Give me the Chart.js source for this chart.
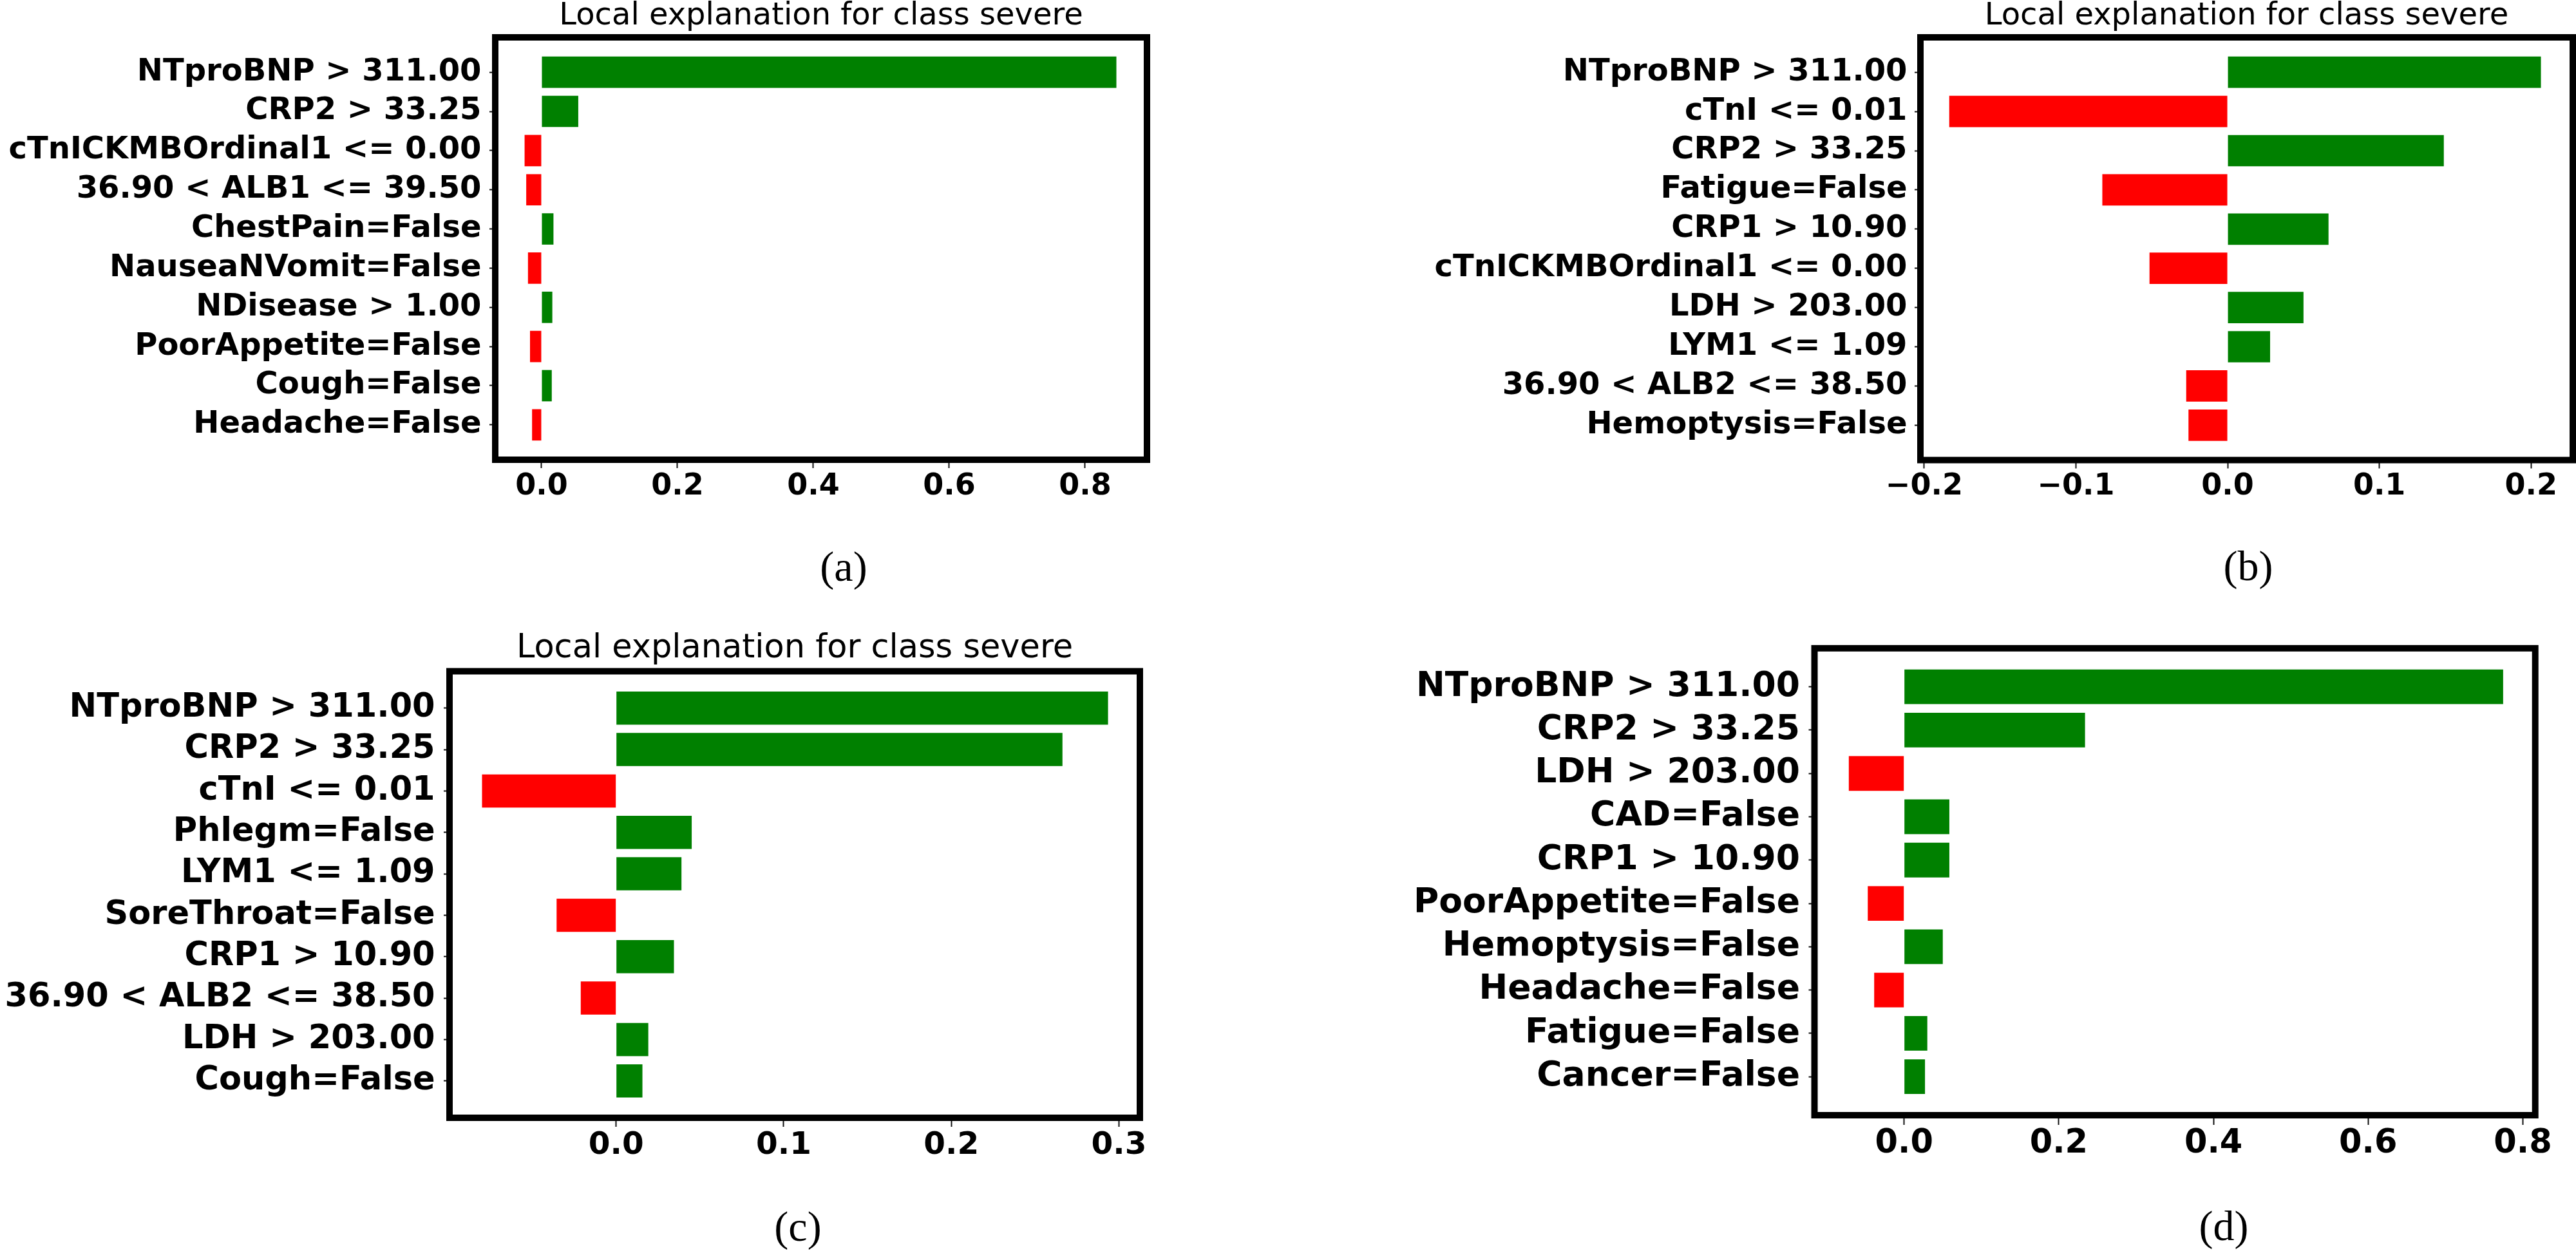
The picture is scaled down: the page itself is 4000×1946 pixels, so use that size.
<!DOCTYPE html>
<html>
<head>
<meta charset="utf-8">
<script src="https://cdn.jsdelivr.net/npm/chart.js@4.4.0/dist/chart.umd.min.js"></script>
<style>
html, body { margin: 0; padding: 0; background: #fff; }
#wrap { position: relative; width: 4000px; height: 1946px; background: #fff; overflow: hidden; }
canvas { position: absolute; }
.cap { position: absolute; font-family: 'Liberation Serif', 'Times New Roman', serif; font-size: 66px; line-height: 66px; color: #000; transform: translateX(-50%); white-space: nowrap; }
</style>
</head>
<body>
<div id="wrap">
  <canvas id="ca" width="2000" height="973" style="left:0px;top:0px"></canvas>
  <canvas id="cb" width="2000" height="973" style="left:2000px;top:0px"></canvas>
  <canvas id="cc" width="2000" height="973" style="left:0px;top:973px"></canvas>
  <canvas id="cd" width="2000" height="973" style="left:2000px;top:973px"></canvas>
  <div class="cap" style="left:1310px;top:847px">(a)</div>
  <div class="cap" style="left:3491px;top:846px">(b)</div>
  <div class="cap" style="left:1239px;top:1872px">(c)</div>
  <div class="cap" style="left:3453px;top:1871px">(d)</div>
</div>
<script>
// ---------- data (top bar first) ----------
const titleText = 'Local explanation for class severe';

const labelsA = ['NTproBNP > 311.00', 'CRP2 > 33.25', 'cTnICKMBOrdinal1 <= 0.00', '36.90 < ALB1 <= 39.50', 'ChestPain=False', 'NauseaNVomit=False', 'NDisease > 1.00', 'PoorAppetite=False', 'Cough=False', 'Headache=False'];
const valuesA = [0.846, 0.054, -0.025, -0.0226, 0.0175, -0.020, 0.0158, -0.017, 0.015, -0.014];
const ticksA = [0.0, 0.2, 0.4, 0.6, 0.8];

const labelsB = ['NTproBNP > 311.00', 'cTnI <= 0.01', 'CRP2 > 33.25', 'Fatigue=False', 'CRP1 > 10.90', 'cTnICKMBOrdinal1 <= 0.00', 'LDH > 203.00', 'LYM1 <= 1.09', '36.90 < ALB2 <= 38.50', 'Hemoptysis=False'];
const valuesB = [0.2065, -0.1835, 0.1425, -0.0826, 0.0665, -0.0515, 0.050, 0.028, -0.0273, -0.0258];
const ticksB = [-0.2, -0.1, 0.0, 0.1, 0.2];

const labelsC = ['NTproBNP > 311.00', 'CRP2 > 33.25', 'cTnI <= 0.01', 'Phlegm=False', 'LYM1 <= 1.09', 'SoreThroat=False', 'CRP1 > 10.90', '36.90 < ALB2 <= 38.50', 'LDH > 203.00', 'Cough=False'];
const valuesC = [0.2935, 0.2663, -0.080, 0.0451, 0.039, -0.0355, 0.0345, -0.0211, 0.0192, 0.0157];
const ticksC = [0.0, 0.1, 0.2, 0.3];

const labelsD = ['NTproBNP > 311.00', 'CRP2 > 33.25', 'LDH > 203.00', 'CAD=False', 'CRP1 > 10.90', 'PoorAppetite=False', 'Hemoptysis=False', 'Headache=False', 'Fatigue=False', 'Cancer=False'];
const valuesD = [0.7745, 0.2339, -0.0715, 0.0585, 0.0585, -0.047, 0.050, -0.0387, 0.030, 0.027];
const ticksD = [0.0, 0.2, 0.4, 0.6, 0.8];

// ---------- styling ----------
const GREEN = '#008000';
const RED = '#ff0000';

const framePlugin = {
  id: 'frame',
  afterDatasetsDraw(chart, args, opts) {
    const a = chart.chartArea, ctx = chart.ctx;
    ctx.save();
    ctx.strokeStyle = '#000';
    ctx.lineWidth = opts.width || 10;
    ctx.lineJoin = 'miter';
    ctx.strokeRect(a.left, a.top, a.right - a.left, a.bottom - a.top);
    ctx.restore();
  }
};

function fmtTick(v) {
  const s = Math.abs(v).toFixed(1);
  return (v < -1e-9 ? '\u2212' : '') + s;
}

function zeroPad(s) { s.paddingLeft = 0; s.paddingRight = 0; s.paddingTop = 0; s.paddingBottom = 0; }

function makePanel(id, labels, values, tickVals, p) {
  const n = labels.length;
  const yPad = 0.4 + 0.05 * (n - 1 + 0.8);
  new Chart(document.getElementById(id), {
    type: 'bar',
    data: {
      datasets: [{
        data: values.map((v, i) => ({ x: v, y: i })),
        backgroundColor: values.map(v => v >= 0 ? GREEN : RED),
        borderWidth: 0,
        barPercentage: 0.8,
        categoryPercentage: 1.0
      }]
    },
    options: {
      indexAxis: 'y',
      responsive: false,
      animation: false,
      devicePixelRatio: 1,
      layout: { padding: { left: 0, top: p.padTop, right: p.padRight, bottom: 0 } },
      plugins: {
        legend: { display: false },
        tooltip: { enabled: false },
        title: p.title ? {
          display: true, text: p.title, fullSize: false, color: '#000', align: 'center',
          font: { family: 'DejaVu Sans', size: p.titleSize, weight: 'normal', lineHeight: 1 },
          padding: { top: p.titlePadTop, bottom: p.titlePadBottom }
        } : { display: false },
        frame: { width: p.frame }
      },
      scales: {
        x: {
          type: 'linear', position: 'bottom', min: p.xmin, max: p.xmax, offset: false,
          grid: { display: true, drawOnChartArea: false, drawTicks: true, tickLength: p.xTickLen, tickWidth: 2, tickColor: '#111', color: '#111', offset: false },
          border: { display: false },
          ticks: {
            autoSkip: false, maxRotation: 0, minRotation: 0, padding: p.xTickPad, color: '#000',
            font: { family: 'DejaVu Sans', size: p.tickSize, weight: 'bold', lineHeight: 1 },
            callback: v => fmtTick(v)
          },
          afterBuildTicks: s => { s.ticks = tickVals.map(v => ({ value: v })); },
          afterFit: s => { s.height = p.xAxisH; zeroPad(s); }
        },
        y: {
          type: 'linear', position: 'left', reverse: true, min: -yPad, max: n - 1 + yPad, offset: false,
          grid: { display: true, drawOnChartArea: false, drawTicks: true, tickLength: 9, tickWidth: 2, tickColor: '#111', color: '#111', offset: false },
          border: { display: false },
          ticks: {
            autoSkip: false, padding: p.yTickPad, color: '#000',
            font: { family: 'DejaVu Sans', size: p.labelSize, weight: 'bold', lineHeight: 1 },
            callback: v => labels[v]
          },
          afterBuildTicks: s => { s.ticks = labels.map((_, i) => ({ value: i })); },
          afterFit: s => { s.width = p.yAxisW; zeroPad(s); }
        }
      }
    },
    plugins: [framePlugin]
  });
}

makePanel('ca', labelsA, valuesA, ticksA, {
  title: titleText, titleSize: 48, titlePadTop: 1.4, titlePadBottom: 8.6,
  padTop: 0, padRight: 219, yAxisW: 769, xAxisH: 259,
  xmin: -0.0682, xmax: 0.891, labelSize: 48, tickSize: 46,
  xTickLen: 13, xTickPad: 6, yTickPad: 12.5, frame: 10
});
makePanel('cb', labelsB, valuesB, ticksB, {
  title: titleText, titleSize: 48, titlePadTop: 1.4, titlePadBottom: 8.6,
  padTop: 0, padRight: 5, yAxisW: 982, xAxisH: 258.5,
  xmin: -0.2025, xmax: 0.2275, labelSize: 48, tickSize: 46,
  xTickLen: 13, xTickPad: 5.5, yTickPad: 11.5, frame: 10
});
makePanel('cc', labelsC, valuesC, ticksC, {
  title: titleText, titleSize: 51, titlePadTop: 8.9, titlePadBottom: 9.6,
  padTop: 0, padRight: 230, yAxisW: 698, xAxisH: 210,
  xmin: -0.0994, xmax: 0.3125, labelSize: 51, tickSize: 48.5,
  xTickLen: 14, xTickPad: 5.2, yTickPad: 13.4, frame: 10
});
makePanel('cd', labelsD, valuesD, ticksD, {
  title: null,
  padTop: 33.8, padRight: 63.3, yAxisW: 817.5, xAxisH: 214,
  xmin: -0.1159, xmax: 0.816, labelSize: 53.5, tickSize: 51,
  xTickLen: 15, xTickPad: 4.5, yTickPad: 13.5, frame: 10
});
</script>
</body>
</html>
